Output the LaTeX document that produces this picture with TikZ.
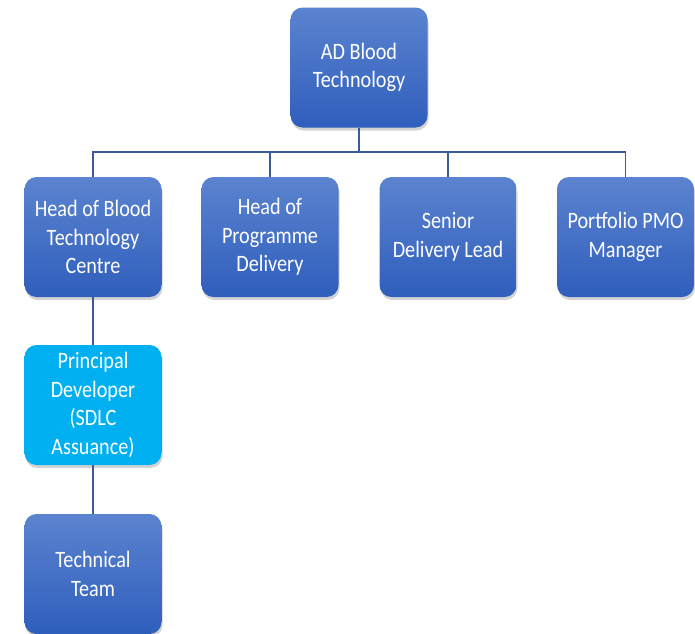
\documentclass[tikz,border=0pt]{standalone}
\usepackage{fontspec}
\setmainfont{Carlito}[FakeStretch=0.86]
\usetikzlibrary{shadows}
\definecolor{boxtop}{HTML}{5B83CF}
\definecolor{boxbot}{HTML}{2F5EBC}
\definecolor{cyanbox}{HTML}{00B0F0}
\definecolor{linkblue}{HTML}{3A5A98}

\begin{document}
\begin{tikzpicture}[x=1pt,y=-1pt,
  role/.style={rectangle, rounded corners=12pt, minimum width=137pt, minimum height=120pt,
    top color=boxtop, bottom color=boxbot, draw=none, text=white, align=center,
    font=\fontsize{23.5}{28.5}\selectfont, drop shadow={shadow xshift=1pt, shadow yshift=-3pt, opacity=0.35}},
  lead/.style={role, top color=cyanbox, bottom color=cyanbox},
  link/.style={draw=linkblue, line width=1.6pt}]
\useasboundingbox (0,0) rectangle (695,633);
\node[role] (adbt) at (359,67.5) {AD Blood\\Technology};
\node[role] (hbtc) at (93,237) {Head of Blood\\Technology\\Centre};
\node[role] (hpd) at (270,237) {Head of\\Programme\\Delivery};
\node[role] (sdl) at (448,237) {Senior\\Delivery Lead};
\node[role] (pmo) at (625.5,237) {Portfolio PMO\\Manager};
\node[lead] (pdev) at (93,405) {Principal\\Developer\\(SDLC\\Assuance)};
\node[role] (tech) at (93,574) {Technical\\Team};
\coordinate (bus) at (359,152);
\draw[link] (adbt.south) -- (bus);
\draw[link] (bus) -| (hbtc.north);
\draw[link] (bus) -| (hpd.north);
\draw[link] (bus) -| (sdl.north);
\draw[link] (bus) -| (pmo.north);
\draw[link] (hbtc.south) -- (pdev.north);
\draw[link] (pdev.south) -- (tech.north);
\end{tikzpicture}
\end{document}
